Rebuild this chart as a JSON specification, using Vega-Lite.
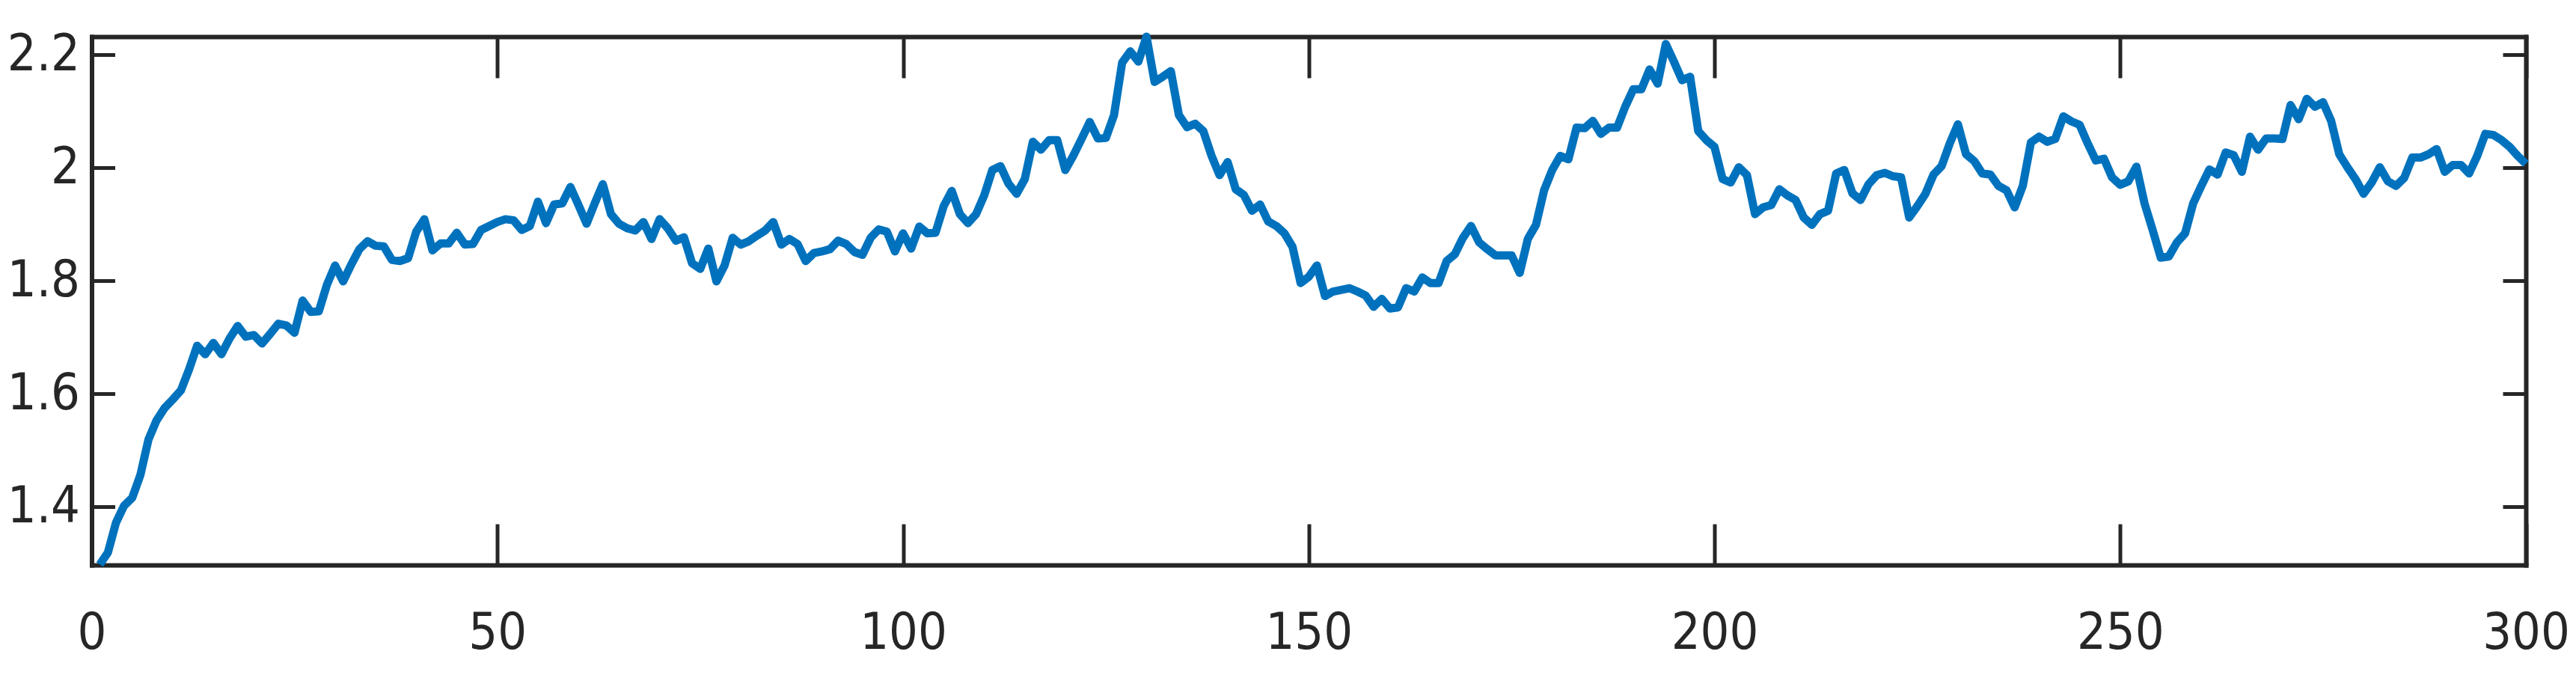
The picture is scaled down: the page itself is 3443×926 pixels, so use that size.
{
  "$schema": "https://vega.github.io/schema/vega-lite/v6.json",
  "width": 3253.5,
  "height": 706,
  "autosize": "none",
  "padding": {"left": 122.5, "top": 49, "right": 67, "bottom": 171},
  "background": "white",
  "config": {
    "view": {"stroke": null},
    "axis": {"grid": false, "domain": false, "title": null, "labelFont": "DejaVu Sans Condensed", "labelFontSize": 68, "labelColor": "#262626", "tickColor": "#262626", "tickWidth": 5, "domainColor": "#262626", "domainWidth": 6, "domainCap": "square"}
  },
  "resolve": {"axis": {"x": "independent", "y": "independent"}},
  "data": {"values": [
    {"x":1,"y":1.298},{"x":2,"y":1.319},{"x":3,"y":1.372},{"x":4,"y":1.402},{"x":5,"y":1.416},{"x":6,"y":1.456},{"x":7,"y":1.519},{"x":8,"y":1.553},{"x":9,"y":1.575},{"x":10,"y":1.590},
    {"x":11,"y":1.606},{"x":12,"y":1.643},{"x":13,"y":1.685},{"x":14,"y":1.670},{"x":15,"y":1.690},{"x":16,"y":1.670},{"x":17,"y":1.698},{"x":18,"y":1.720},{"x":19,"y":1.701},{"x":20,"y":1.704},
    {"x":21,"y":1.689},{"x":22,"y":1.706},{"x":23,"y":1.724},{"x":24,"y":1.721},{"x":25,"y":1.708},{"x":26,"y":1.765},{"x":27,"y":1.745},{"x":28,"y":1.746},{"x":29,"y":1.793},{"x":30,"y":1.827},
    {"x":31,"y":1.799},{"x":32,"y":1.829},{"x":33,"y":1.856},{"x":34,"y":1.870},{"x":35,"y":1.862},{"x":36,"y":1.861},{"x":37,"y":1.837},{"x":38,"y":1.835},{"x":39,"y":1.840},{"x":40,"y":1.887},
    {"x":41,"y":1.909},{"x":42,"y":1.854},{"x":43,"y":1.866},{"x":44,"y":1.866},{"x":45,"y":1.885},{"x":46,"y":1.864},{"x":47,"y":1.865},{"x":48,"y":1.890},{"x":49,"y":1.897},{"x":50,"y":1.904},
    {"x":51,"y":1.909},{"x":52,"y":1.907},{"x":53,"y":1.890},{"x":54,"y":1.897},{"x":55,"y":1.940},{"x":56,"y":1.902},{"x":57,"y":1.935},{"x":58,"y":1.937},{"x":59,"y":1.966},{"x":60,"y":1.934},
    {"x":61,"y":1.901},{"x":62,"y":1.937},{"x":63,"y":1.971},{"x":64,"y":1.918},{"x":65,"y":1.901},{"x":66,"y":1.893},{"x":67,"y":1.889},{"x":68,"y":1.904},{"x":69,"y":1.874},{"x":70,"y":1.909},
    {"x":71,"y":1.893},{"x":72,"y":1.871},{"x":73,"y":1.877},{"x":74,"y":1.831},{"x":75,"y":1.821},{"x":76,"y":1.857},{"x":77,"y":1.799},{"x":78,"y":1.827},{"x":79,"y":1.876},{"x":80,"y":1.864},
    {"x":81,"y":1.870},{"x":82,"y":1.880},{"x":83,"y":1.889},{"x":84,"y":1.904},{"x":85,"y":1.864},{"x":86,"y":1.874},{"x":87,"y":1.865},{"x":88,"y":1.835},{"x":89,"y":1.849},{"x":90,"y":1.852},
    {"x":91,"y":1.856},{"x":92,"y":1.871},{"x":93,"y":1.865},{"x":94,"y":1.851},{"x":95,"y":1.846},{"x":96,"y":1.876},{"x":97,"y":1.891},{"x":98,"y":1.887},{"x":99,"y":1.852},{"x":100,"y":1.884},
    {"x":101,"y":1.857},{"x":102,"y":1.896},{"x":103,"y":1.884},{"x":104,"y":1.885},{"x":105,"y":1.932},{"x":106,"y":1.959},{"x":107,"y":1.918},{"x":108,"y":1.902},{"x":109,"y":1.918},{"x":110,"y":1.951},
    {"x":111,"y":1.996},{"x":112,"y":2.003},{"x":113,"y":1.972},{"x":114,"y":1.954},{"x":115,"y":1.980},{"x":116,"y":2.046},{"x":117,"y":2.032},{"x":118,"y":2.049},{"x":119,"y":2.049},{"x":120,"y":1.996},
    {"x":121,"y":2.022},{"x":122,"y":2.051},{"x":123,"y":2.081},{"x":124,"y":2.052},{"x":125,"y":2.053},{"x":126,"y":2.093},{"x":127,"y":2.186},{"x":128,"y":2.206},{"x":129,"y":2.188},{"x":130,"y":2.232},
    {"x":131,"y":2.152},{"x":132,"y":2.161},{"x":133,"y":2.171},{"x":134,"y":2.093},{"x":135,"y":2.072},{"x":136,"y":2.078},{"x":137,"y":2.065},{"x":138,"y":2.022},{"x":139,"y":1.987},{"x":140,"y":2.010},
    {"x":141,"y":1.962},{"x":142,"y":1.952},{"x":143,"y":1.924},{"x":144,"y":1.935},{"x":145,"y":1.905},{"x":146,"y":1.897},{"x":147,"y":1.884},{"x":148,"y":1.860},{"x":149,"y":1.796},{"x":150,"y":1.807},
    {"x":151,"y":1.827},{"x":152,"y":1.773},{"x":153,"y":1.781},{"x":154,"y":1.784},{"x":155,"y":1.787},{"x":156,"y":1.781},{"x":157,"y":1.774},{"x":158,"y":1.754},{"x":159,"y":1.768},{"x":160,"y":1.751},
    {"x":161,"y":1.753},{"x":162,"y":1.787},{"x":163,"y":1.781},{"x":164,"y":1.806},{"x":165,"y":1.796},{"x":166,"y":1.796},{"x":167,"y":1.835},{"x":168,"y":1.847},{"x":169,"y":1.876},{"x":170,"y":1.897},
    {"x":171,"y":1.868},{"x":172,"y":1.856},{"x":173,"y":1.845},{"x":174,"y":1.845},{"x":175,"y":1.845},{"x":176,"y":1.814},{"x":177,"y":1.874},{"x":178,"y":1.899},{"x":179,"y":1.960},{"x":180,"y":1.996},
    {"x":181,"y":2.021},{"x":182,"y":2.015},{"x":183,"y":2.071},{"x":184,"y":2.070},{"x":185,"y":2.083},{"x":186,"y":2.060},{"x":187,"y":2.071},{"x":188,"y":2.071},{"x":189,"y":2.108},{"x":190,"y":2.139},
    {"x":191,"y":2.139},{"x":192,"y":2.174},{"x":193,"y":2.149},{"x":194,"y":2.219},{"x":195,"y":2.188},{"x":196,"y":2.155},{"x":197,"y":2.161},{"x":198,"y":2.065},{"x":199,"y":2.049},{"x":200,"y":2.037},
    {"x":201,"y":1.980},{"x":202,"y":1.974},{"x":203,"y":2.001},{"x":204,"y":1.987},{"x":205,"y":1.918},{"x":206,"y":1.930},{"x":207,"y":1.934},{"x":208,"y":1.962},{"x":209,"y":1.951},{"x":210,"y":1.943},
    {"x":211,"y":1.912},{"x":212,"y":1.899},{"x":213,"y":1.918},{"x":214,"y":1.924},{"x":215,"y":1.990},{"x":216,"y":1.996},{"x":217,"y":1.955},{"x":218,"y":1.943},{"x":219,"y":1.971},{"x":220,"y":1.987},
    {"x":221,"y":1.991},{"x":222,"y":1.985},{"x":223,"y":1.983},{"x":224,"y":1.912},{"x":225,"y":1.932},{"x":226,"y":1.954},{"x":227,"y":1.988},{"x":228,"y":2.003},{"x":229,"y":2.043},{"x":230,"y":2.077},
    {"x":231,"y":2.024},{"x":232,"y":2.012},{"x":233,"y":1.990},{"x":234,"y":1.988},{"x":235,"y":1.968},{"x":236,"y":1.960},{"x":237,"y":1.930},{"x":238,"y":1.968},{"x":239,"y":2.045},{"x":240,"y":2.055},
    {"x":241,"y":2.046},{"x":242,"y":2.051},{"x":243,"y":2.091},{"x":244,"y":2.082},{"x":245,"y":2.076},{"x":246,"y":2.043},{"x":247,"y":2.013},{"x":248,"y":2.016},{"x":249,"y":1.983},{"x":250,"y":1.970},
    {"x":251,"y":1.976},{"x":252,"y":2.002},{"x":253,"y":1.937},{"x":254,"y":1.890},{"x":255,"y":1.841},{"x":256,"y":1.843},{"x":257,"y":1.868},{"x":258,"y":1.884},{"x":259,"y":1.937},{"x":260,"y":1.968},
    {"x":261,"y":1.997},{"x":262,"y":1.988},{"x":263,"y":2.027},{"x":264,"y":2.022},{"x":265,"y":1.993},{"x":266,"y":2.055},{"x":267,"y":2.032},{"x":268,"y":2.052},{"x":269,"y":2.052},{"x":270,"y":2.051},
    {"x":271,"y":2.111},{"x":272,"y":2.086},{"x":273,"y":2.122},{"x":274,"y":2.108},{"x":275,"y":2.116},{"x":276,"y":2.083},{"x":277,"y":2.024},{"x":278,"y":2.001},{"x":279,"y":1.980},{"x":280,"y":1.954},
    {"x":281,"y":1.974},{"x":282,"y":2.001},{"x":283,"y":1.976},{"x":284,"y":1.968},{"x":285,"y":1.982},{"x":286,"y":2.018},{"x":287,"y":2.018},{"x":288,"y":2.024},{"x":289,"y":2.033},{"x":290,"y":1.993},
    {"x":291,"y":2.005},{"x":292,"y":2.005},{"x":293,"y":1.990},{"x":294,"y":2.021},{"x":295,"y":2.060},{"x":296,"y":2.058},{"x":297,"y":2.049},{"x":298,"y":2.037},{"x":299,"y":2.021},{"x":300,"y":2.007}
  ]},
  "layer": [
    {
      "mark": {"type": "line", "color": "#0072BD", "strokeWidth": 11, "strokeJoin": "round", "strokeCap": "butt"},
      "encoding": {
        "x": {"field": "x", "type": "quantitative", "scale": {"domain": [0, 300], "nice": false, "zero": false},
              "axis": {"orient": "bottom", "values": [0, 50, 100, 150, 200, 250, 300], "ticks": false, "tickSize": 0, "labelPadding": 57, "labelBaseline": "top", "labelFlush": false}},
        "y": {"field": "y", "type": "quantitative", "scale": {"domain": [1.297, 2.232], "nice": false, "zero": false},
              "axis": {"orient": "left", "values": [1.4, 1.6, 1.8, 2.0, 2.2], "format": "~g", "ticks": false, "tickSize": 0, "labelPadding": 16, "labelAlign": "right", "labelBaseline": "middle", "labelFlush": false}}
      }
    },
    {
      "mark": {"type": "line", "opacity": 0},
      "encoding": {
        "x": {"field": "x", "type": "quantitative", "scale": {"domain": [0, 300], "nice": false, "zero": false},
              "axis": {"orient": "bottom", "values": [0, 50, 100, 150, 200, 250, 300], "labels": false, "ticks": true, "tickSize": -55, "domain": true}},
        "y": {"field": "y", "type": "quantitative", "scale": {"domain": [1.297, 2.232], "nice": false, "zero": false},
              "axis": {"orient": "left", "values": [1.4, 1.6, 1.8, 2.0, 2.2], "labels": false, "ticks": true, "tickSize": -31, "domain": true}}
      }
    },
    {
      "mark": {"type": "line", "opacity": 0},
      "encoding": {
        "x": {"field": "x", "type": "quantitative", "scale": {"domain": [0, 300], "nice": false, "zero": false},
              "axis": {"orient": "top", "values": [0, 50, 100, 150, 200, 250, 300], "labels": false, "ticks": true, "tickSize": -55, "domain": true}},
        "y": {"field": "y", "type": "quantitative", "scale": {"domain": [1.297, 2.232], "nice": false, "zero": false},
              "axis": {"orient": "right", "values": [1.4, 1.6, 1.8, 2.0, 2.2], "labels": false, "ticks": true, "tickSize": -31, "domain": true}}
      }
    }
  ]
}
